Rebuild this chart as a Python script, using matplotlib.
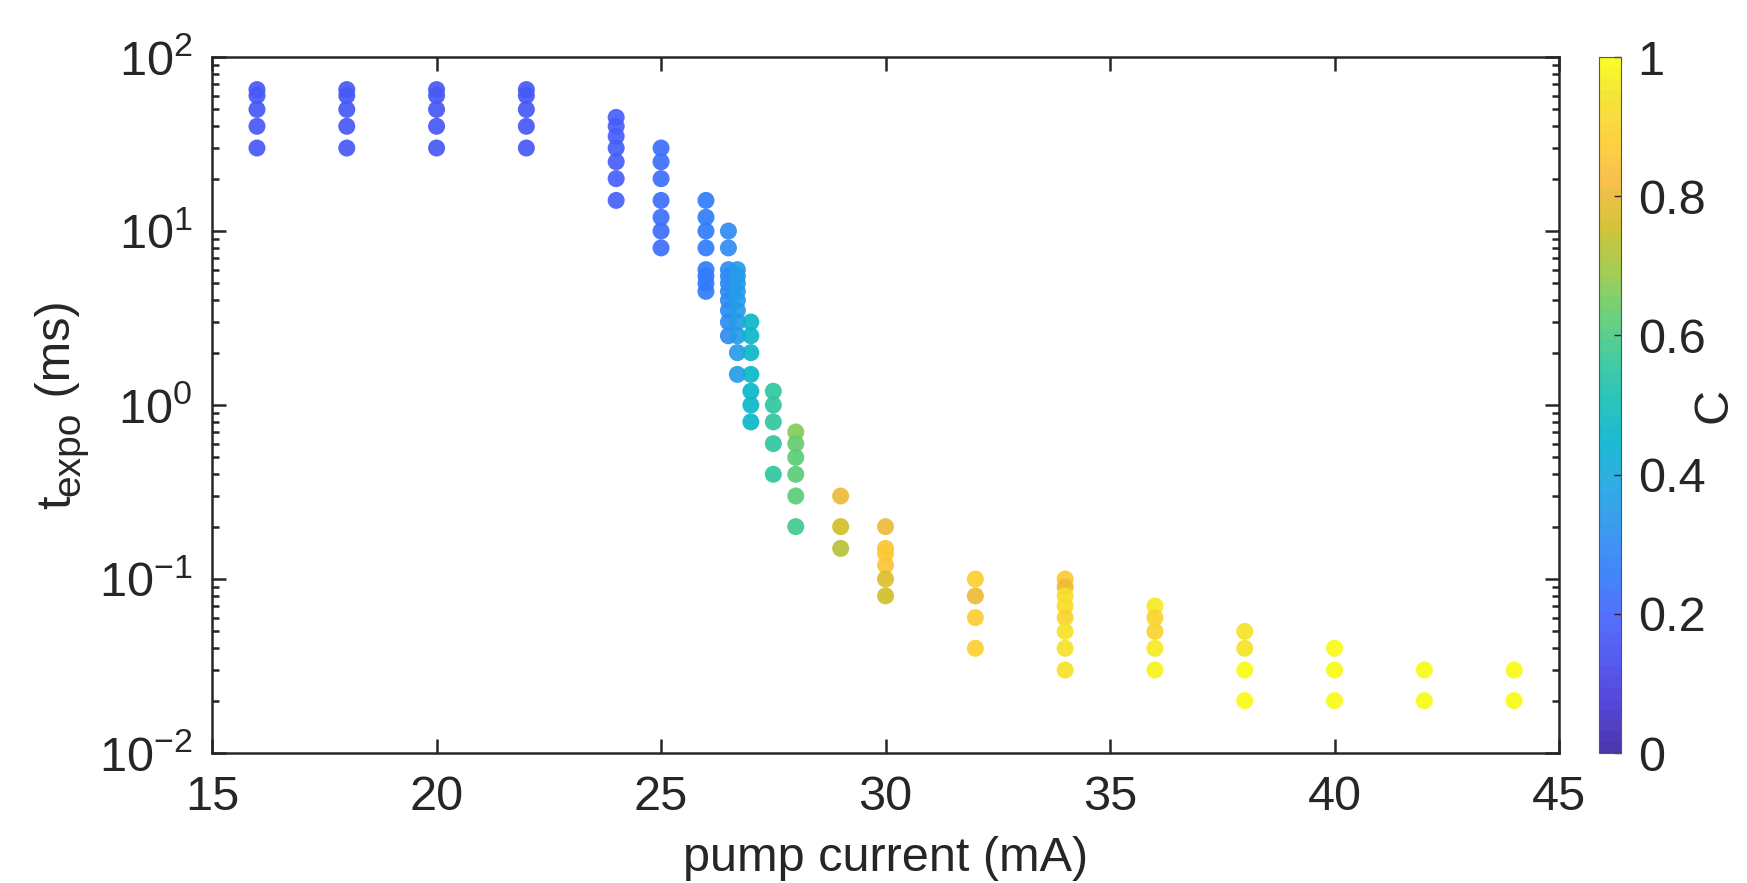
import numpy as np
import matplotlib
matplotlib.use("Agg")
import matplotlib.pyplot as plt
from matplotlib.colors import LinearSegmentedColormap
from matplotlib.ticker import LogLocator, NullFormatter
from matplotlib.transforms import IdentityTransform

plt.rcParams['font.family'] = ['Liberation Sans', 'DejaVu Sans']
plt.rcParams['mathtext.fontset'] = 'custom'
plt.rcParams['mathtext.rm'] = 'Liberation Sans'
plt.rcParams['mathtext.it'] = 'Liberation Sans'
plt.rcParams['mathtext.default'] = 'regular'
plt.rcParams['axes.unicode_minus'] = False

# data: pump current (mA), exposure time (ms), colour value C
pump_mA = [16, 16, 16, 16, 16,
           18, 18, 18, 18, 18,
           20, 20, 20, 20, 20,
           22, 22, 22, 22, 22,
           24, 24, 24, 24, 24, 24, 24,
           25, 25, 25, 25, 25, 25, 25,
           26, 26, 26, 26, 26, 26, 26, 26,
           26.5, 26.5, 26.5, 26.5, 26.5, 26.5, 26.5, 26.5, 26.5, 26.5,
           26.7, 26.7, 26.7, 26.7, 26.7, 26.7, 26.7, 26.7, 26.7, 26.7,
           27, 27, 27, 27, 27, 27, 27,
           27.5, 27.5, 27.5, 27.5, 27.5,
           28, 28, 28, 28, 28, 28,
           29, 29, 29,
           30, 30, 30, 30, 30, 30,
           32, 32, 32, 32,
           34, 34, 34, 34, 34, 34, 34, 34,
           36, 36, 36, 36, 36,
           38, 38, 38, 38,
           40, 40, 40,
           42, 42,
           44, 44]

t_expo_ms = [65, 60, 50, 40, 30,
             65, 60, 50, 40, 30,
             65, 60, 50, 40, 30,
             65, 60, 50, 40, 30,
             45, 40, 35, 30, 25, 20, 15,
             30, 25, 20, 15, 12, 10, 8,
             15, 12, 10, 8, 6, 5.5, 5, 4.5,
             10, 8, 6, 5.5, 5, 4.5, 4, 3.5, 3, 2.5,
             6, 5.5, 5, 4.5, 4, 3.5, 3, 2.5, 2, 1.5,
             3, 2.5, 2, 1.5, 1.2, 1.0, 0.8,
             1.2, 1.0, 0.8, 0.6, 0.4,
             0.7, 0.6, 0.5, 0.4, 0.3, 0.2,
             0.3, 0.2, 0.15,
             0.2, 0.15, 0.14, 0.12, 0.1, 0.08,
             0.1, 0.08, 0.06, 0.04,
             0.1, 0.09, 0.08, 0.07, 0.06, 0.05, 0.04, 0.03,
             0.07, 0.06, 0.05, 0.04, 0.03,
             0.05, 0.04, 0.03, 0.02,
             0.04, 0.03, 0.02,
             0.03, 0.02,
             0.03, 0.02]

C_val = [0.17, 0.17, 0.17, 0.17, 0.17,
         0.17, 0.17, 0.17, 0.17, 0.17,
         0.17, 0.17, 0.17, 0.17, 0.17,
         0.17, 0.17, 0.17, 0.17, 0.17,
         0.18, 0.18, 0.18, 0.18, 0.18, 0.18, 0.18,
         0.22, 0.22, 0.22, 0.22, 0.22, 0.22, 0.22,
         0.25, 0.25, 0.25, 0.25, 0.25, 0.25, 0.25, 0.25,
         0.30, 0.30, 0.30, 0.30, 0.30, 0.30, 0.30, 0.30, 0.30, 0.30,
         0.35, 0.35, 0.35, 0.35, 0.35, 0.35, 0.35, 0.35, 0.35, 0.35,
         0.46, 0.46, 0.46, 0.46, 0.46, 0.46, 0.46,
         0.55, 0.55, 0.55, 0.55, 0.55,
         0.67, 0.63, 0.61, 0.62, 0.62, 0.59,
         0.80, 0.75, 0.72,
         0.80, 0.85, 0.87, 0.85, 0.78, 0.75,
         0.89, 0.80, 0.89, 0.89,
         0.86, 0.80, 0.93, 0.93, 0.90, 0.94, 0.94, 0.95,
         0.96, 0.90, 0.90, 0.96, 0.97,
         0.95, 0.95, 0.99, 1.0,
         0.99, 0.99, 1.0,
         1.0, 1.0,
         1.0, 1.0]

cbar_ticks = [0, 0.2, 0.4, 0.6, 0.8, 1]
cbar_labels = ['0', '0.2', '0.4', '0.6', '0.8', '1']

# parula-like colormap
parula = LinearSegmentedColormap.from_list('parula', [
    (0 / 63, (0.2422, 0.1504, 0.6603)),
    (4 / 63, (0.2706, 0.2147, 0.8364)),
    (8 / 63, (0.2813, 0.3006, 0.9414)),
    (12 / 63, (0.2699, 0.3892, 0.9906)),
    (16 / 63, (0.1963, 0.4847, 0.9892)),
    (20 / 63, (0.1687, 0.5703, 0.9359)),
    (24 / 63, (0.1248, 0.6459, 0.8883)),
    (28 / 63, (0.0297, 0.7082, 0.8163)),
    (32 / 63, (0.0964, 0.7500, 0.7120)),
    (36 / 63, (0.2161, 0.7843, 0.5923)),
    (40 / 63, (0.3909, 0.8029, 0.4354)),
    (44 / 63, (0.6174, 0.7876, 0.2612)),
    (48 / 63, (0.8203, 0.7498, 0.1535)),
    (52 / 63, (0.9728, 0.7298, 0.2394)),
    (56 / 63, (0.9892, 0.8136, 0.1885)),
    (60 / 63, (0.9610, 0.8890, 0.1537)),
    (63 / 63, (0.9769, 0.9839, 0.0805)),
], N=64)

dark = '#262626'
fs = 35

fig = plt.figure(figsize=(17.47, 8.83), dpi=100)
ax = fig.add_axes([0.1214, 0.1472, 0.771, 0.7882])
cax = fig.add_axes([0.9153, 0.1472, 0.0126, 0.7882])

sc = ax.scatter(pump_mA, t_expo_ms, c=C_val, cmap=parula, vmin=0, vmax=1,
                s=150, alpha=0.92, edgecolors='none')

ax.set_yscale('log')
ax.set_xlim(15, 45)
ax.set_ylim(1e-2, 1e2)
ax.set_xticks([15, 20, 25, 30, 35, 40, 45])
ax.yaxis.set_major_locator(LogLocator(base=10, numticks=10))
ax.yaxis.set_minor_locator(LogLocator(base=10, subs=np.arange(2, 10), numticks=20))
ax.yaxis.set_minor_formatter(NullFormatter())

ax.tick_params(which='both', direction='in', top=True, right=True,
               colors=dark, width=1.8, labelsize=fs)
ax.tick_params(which='major', length=10)
ax.tick_params(which='minor', length=5)
ax.tick_params(axis='x', pad=16)
ax.tick_params(axis='y', pad=14)
for sp in ax.spines.values():
    sp.set_linewidth(1.8)
    sp.set_color(dark)

ax.set_xlabel('pump current (mA)', fontsize=fs, color=dark, labelpad=11)

# y label built from pieces so the subscript can be a bit larger (MATLAB style)
px = IdentityTransform()
renderer = fig.canvas.get_renderer()
base_x = 70
pieces = [('t', fs, 0), ('expo', fs * 0.8, 9), (' (ms)', fs, 0)]
texts = []
y = 0
for s, size, shift in pieces:
    t = fig.text(base_x + shift, y, s, fontsize=size, color=dark, rotation=90,
                 rotation_mode='anchor', ha='left', va='baseline', transform=px)
    y = t.get_window_extent(renderer).y1
    texts.append(t)
# centre the whole label on the axes
ax_mid = (ax.get_position().y0 + ax.get_position().height / 2) * fig.bbox.height
off = ax_mid - y / 2
for t in texts:
    xx, yy = t.get_position()
    t.set_position((xx, yy + off))

cb = fig.colorbar(sc, cax=cax, ticks=cbar_ticks)
cb.ax.set_yticklabels(cbar_labels)
cb.outline.set_linewidth(0.8)
cb.outline.set_edgecolor('#555555')
cb.ax.tick_params(direction='in', length=5, width=1, colors=dark,
                  labelsize=fs, pad=12)
cb.set_label('C', fontsize=fs, color=dark, labelpad=-10)

fig.savefig('out.png', dpi=100)
